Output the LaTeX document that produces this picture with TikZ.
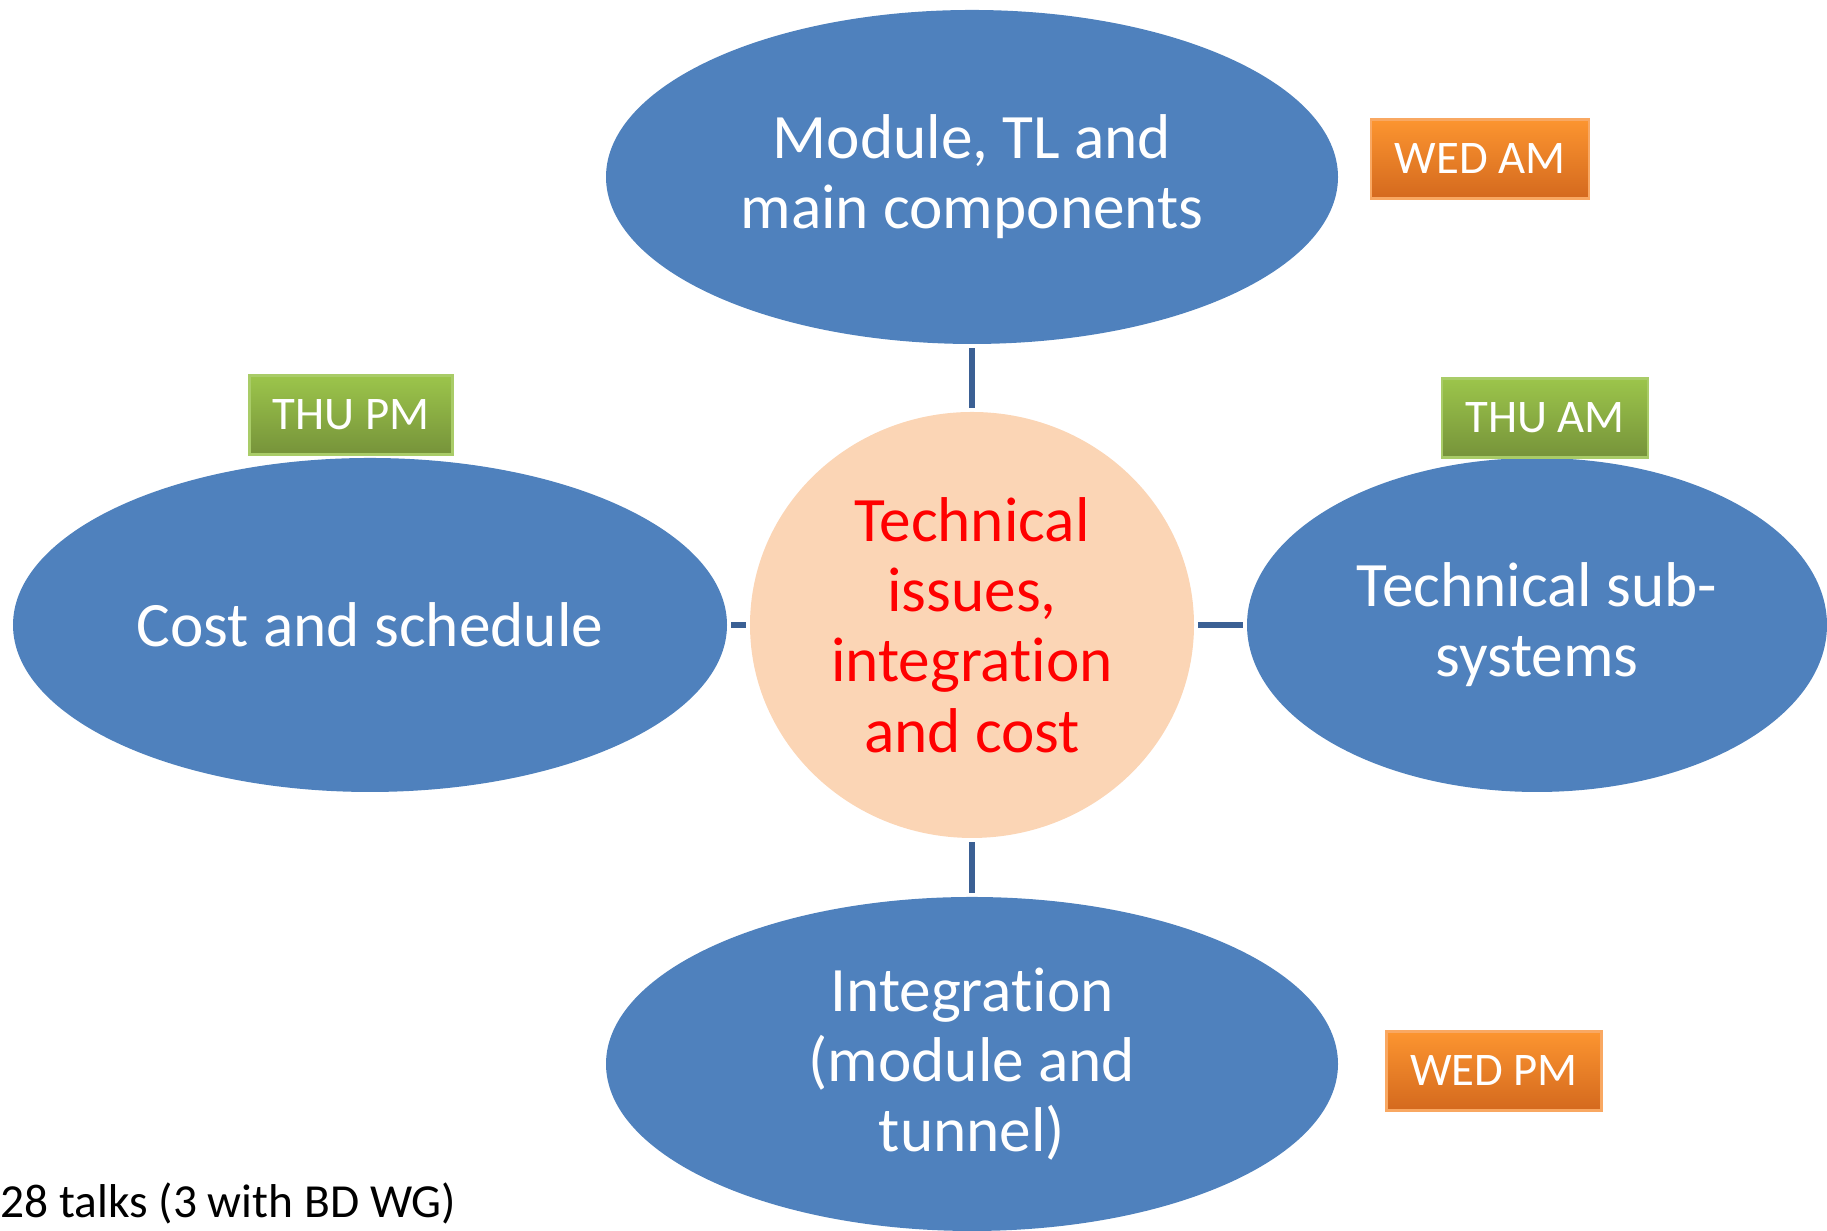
\documentclass[tikz,border=0pt]{standalone}
\usepackage{fontspec}
\setmainfont{Carlito}[Ligatures=NoCommon]
\usetikzlibrary{shapes.geometric}
\colorlet{background}{white}
\definecolor{topicColor}{HTML}{4F81BD}
\definecolor{linkColor}{HTML}{3B6094}
\definecolor{hubColor}{HTML}{FBD5B5}
\definecolor{orangeTop}{HTML}{FC9530}
\definecolor{orangeBottom}{HTML}{D4691E}
\definecolor{orangeEdge}{HTML}{F9A862}
\definecolor{greenTop}{HTML}{9CC54B}
\definecolor{greenBottom}{HTML}{76933A}
\definecolor{greenEdge}{HTML}{A9CC68}
\newcommand{\bigtext}{\fontsize{18}{20}\selectfont}
\tikzset{
  topic/.style={ellipse, fill=topicColor, inner sep=0pt, text=white,
    align=center, font=\bigtext, minimum height=3.34cm},
  hub/.style={ellipse, fill=hubColor, inner sep=0pt, text=red,
    align=center, font=\bigtext, minimum width=4.44cm, minimum height=4.26cm},
  dayTag/.style={rectangle, inner sep=0pt, text=white, line width=0.6pt,
    font=\fontsize{13.3}{15}\selectfont, minimum height=0.79cm},
  wedTag/.style={dayTag, draw=orangeEdge, top color=orangeTop, bottom color=orangeBottom},
  thuTag/.style={dayTag, draw=greenEdge, top color=greenTop, bottom color=greenBottom},
  link/.style={linkColor, line width=1.5pt, shorten <=1pt, shorten >=1pt}
}
\begin{document}
\begin{tikzpicture}
    \useasboundingbox (0,0) rectangle (18.27,12.31);
    \node (hub) at (9.72,6.06) [hub] {Technical\\issues,\\integration\\and cost};
    \node (module) at (9.72,10.54) [topic, minimum width=7.32cm] {Module, TL and\\main components};
    \node (cost) at (3.70,6.06) [topic, minimum width=7.14cm] {Cost and schedule};
    \node (subsys) at (15.37,6.06) [topic, minimum width=5.80cm] {Technical sub-\\systems};
    \node (integ) at (9.72,1.67) [topic, minimum width=7.32cm] {Integration\\(module and\\tunnel)};
    \draw [link] (module.south) -- (hub.north);
    \draw [link] (hub.south) -- (integ.north);
    \draw [link] (cost.east) -- (hub.west);
    \draw [link] (hub.east) -- (subsys.west);
    \node (wedAm) at (14.80,10.72) [wedTag, minimum width=2.18cm] {WED AM};
    \node (wedPm) at (14.94,1.60) [wedTag, minimum width=2.15cm] {WED PM};
    \node (thuPm) at (3.51,8.16) [thuTag, minimum width=2.03cm] {THU PM};
    \node (thuAm) at (15.45,8.13) [thuTag, minimum width=2.06cm] {THU AM};
    \node (talks) at (0,0.13) [anchor=base west, inner sep=0pt, font=\fontsize{13.5}{16}\selectfont] {28 talks (3 with BD WG)};
  \end{tikzpicture}
\end{document}
